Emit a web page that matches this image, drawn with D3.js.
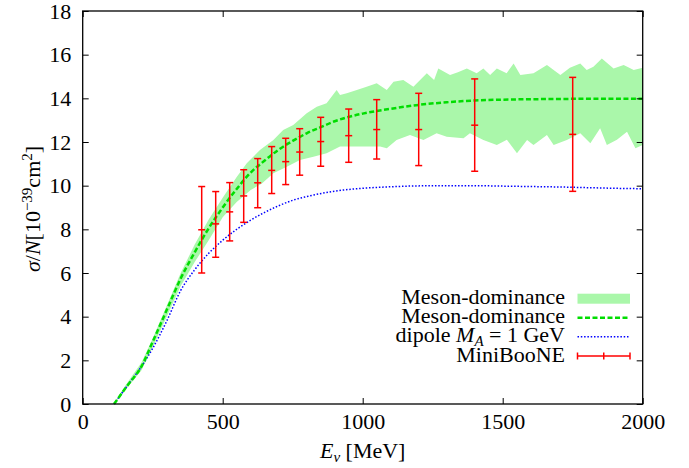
<!DOCTYPE html>
<html>
<head>
<meta charset="utf-8">
<script src="https://cdn.jsdelivr.net/npm/d3@7"></script>
<style>
  body { margin: 0; background: #fff; }
  svg text { font-family: 'Liberation Serif', 'Times New Roman', serif; fill: #000; }
</style>
</head>
<body>
<div id="chart"></div>
<script>
// ---- data ----
var xTicks = [0, 500, 1000, 1500, 2000];
var yTicks = [0, 2, 4, 6, 8, 10, 12, 14, 16, 18];

// meson-dominance central curve
var mesonE = [112, 160, 210, 250, 300, 350, 400, 450, 500, 550, 600, 650, 700, 750, 800, 850, 900, 950, 1000, 1100, 1200, 1300, 1400, 1500, 1600, 1700, 1800, 1900, 2000];
var mesonV = [0, 0.85, 1.72, 2.85, 4.3, 5.75, 6.95, 8.05, 9.0, 9.85, 10.6, 11.15, 11.65, 12.05, 12.4, 12.68, 12.95, 13.15, 13.3, 13.52, 13.7, 13.82, 13.9, 13.94, 13.96, 13.97, 13.98, 13.98, 13.98];

// dipole M_A = 1 GeV
var dipoleE = [112, 160, 210, 250, 300, 350, 400, 450, 500, 550, 600, 650, 700, 750, 800, 900, 1000, 1100, 1200, 1300, 1400, 1500, 1600, 1700, 1800, 1900, 2000];
var dipoleV = [0, 0.85, 1.72, 2.55, 3.8, 5.2, 6.15, 6.9, 7.5, 8.0, 8.42, 8.78, 9.08, 9.33, 9.5, 9.75, 9.88, 9.95, 9.99, 10.0, 10.0, 9.98, 9.96, 9.94, 9.91, 9.88, 9.86];

// meson-dominance band edges [E, value]
var bandUpper = [[112, 0.05], [150, 0.8], [210, 1.9], [250, 3.0], [300, 4.5], [350, 6.0], [400, 7.3], [450, 8.45], [500, 9.45], [550, 10.4], [586, 11.03], [633, 11.63], [681, 12.09], [716, 12.55], [752, 12.78], [800, 13.32], [836, 13.62], [871, 13.77], [907, 14.38], [919, 14.15], [943, 14.23], [979, 14.38], [1014, 14.53], [1050, 14.69], [1086, 14.38], [1110, 14.76], [1145, 14.84], [1181, 14.53], [1229, 15.15], [1255, 14.84], [1270, 15.37], [1312, 15.07], [1340, 15.2], [1372, 15.37], [1407, 15.15], [1431, 15.37], [1455, 15.07], [1479, 15.37], [1514, 15.15], [1539, 15.6], [1563, 15.07], [1610, 15.15], [1658, 15.53], [1706, 15.07], [1740, 15.4], [1777, 15.6], [1800, 15.3], [1824, 15.45], [1854, 15.83], [1896, 15.37], [1932, 15.53], [1968, 15.3], [2000, 15.4]];
var bandLower = [[112, 0], [150, 0.6], [210, 1.55], [250, 2.6], [300, 4.0], [350, 5.4], [400, 6.5], [450, 7.5], [500, 8.55], [550, 9.25], [600, 9.8], [640, 10.1], [681, 10.57], [729, 10.87], [776, 11.18], [824, 11.33], [871, 11.48], [919, 11.79], [967, 11.79], [1026, 11.79], [1062, 11.79], [1086, 11.71], [1121, 12.09], [1169, 12.32], [1217, 12.09], [1264, 12.4], [1300, 12.24], [1360, 12.17], [1383, 12.4], [1431, 12.09], [1479, 11.86], [1515, 12.1], [1551, 11.48], [1587, 12.09], [1610, 11.86], [1658, 12.32], [1682, 11.86], [1729, 12.09], [1777, 12.4], [1813, 11.94], [1848, 12.63], [1872, 11.86], [1908, 12.1], [1944, 12.47], [1974, 11.71], [2000, 11.86]];

// MiniBooNE points
var mbE = [425, 475, 525, 575, 625, 675, 725, 775, 850, 950, 1050, 1200, 1400, 1750];
var mbV = [7.98, 8.25, 8.8, 9.53, 10.13, 10.7, 11.1, 11.54, 12.02, 12.29, 12.57, 12.57, 12.77, 12.35];
var mbLo = [6.0, 6.72, 7.47, 8.32, 8.99, 9.64, 10.05, 10.48, 10.89, 11.07, 11.22, 10.92, 10.66, 9.74];
var mbHi = [9.96, 9.73, 10.14, 10.73, 11.24, 11.79, 12.17, 12.61, 13.13, 13.51, 13.94, 14.23, 14.89, 14.96];

// ---- layout ----
var W = 689, H = 468;
var plot = { left: 82.7, right: 642.7, top: 11, bottom: 404 };
var fontSize = 22;
var serif = "'Liberation Serif', 'Times New Roman', serif";
var bandColor = "#aaf7aa";
var mesonColor = "#00dd00";
var dipoleColor = "#0000ff";
var dataColor = "#ff0000";

var xScale = d3.scaleLinear().domain([0, 2000]).range([plot.left, plot.right]);
var yScale = d3.scaleLinear().domain([0, 18]).range([plot.bottom, plot.top]);

var svg = d3.select("#chart").append("svg")
  .attr("width", W)
  .attr("height", H)
  .style("font-family", serif)
  .style("font-size", fontSize + "px");

svg.append("rect").attr("width", W).attr("height", H).attr("fill", "#fff");

// band
var bandPts = bandUpper.concat(bandLower.slice().reverse());
svg.append("path")
  .attr("d", d3.line()
    .x(function (d) { return xScale(d[0]); })
    .y(function (d) { return yScale(d[1]); })(bandPts) + "Z")
  .attr("fill", bandColor)
  .attr("stroke", "none");

// curves
var mesonData = mesonE.map(function (e, i) { return [e, mesonV[i]]; });
var dipoleData = dipoleE.map(function (e, i) { return [e, dipoleV[i]]; });
var curve = d3.line()
  .curve(d3.curveMonotoneX)
  .x(function (d) { return xScale(d[0]); })
  .y(function (d) { return yScale(d[1]); });

svg.append("path")
  .datum(dipoleData)
  .attr("fill", "none")
  .attr("stroke", dipoleColor)
  .attr("stroke-width", 1.5)
  .attr("stroke-dasharray", "1.5,1.8")
  .attr("d", curve);

svg.append("path")
  .datum(mesonData)
  .attr("fill", "none")
  .attr("stroke", mesonColor)
  .attr("stroke-width", 2.5)
  .attr("stroke-dasharray", "5,2.5")
  .attr("d", curve);

// error bars
var cap = 3.5;
var bars = svg.append("g")
  .attr("stroke", dataColor)
  .attr("stroke-width", 1.5)
  .attr("fill", "none");
mbE.forEach(function (e, i) {
  var px = xScale(e);
  bars.append("line").attr("x1", px).attr("x2", px).attr("y1", yScale(mbLo[i])).attr("y2", yScale(mbHi[i]));
  bars.append("line").attr("x1", px - cap).attr("x2", px + cap).attr("y1", yScale(mbLo[i])).attr("y2", yScale(mbLo[i]));
  bars.append("line").attr("x1", px - cap).attr("x2", px + cap).attr("y1", yScale(mbHi[i])).attr("y2", yScale(mbHi[i]));
  bars.append("line").attr("x1", px - cap).attr("x2", px + cap).attr("y1", yScale(mbV[i])).attr("y2", yScale(mbV[i]));
});

// axes, ticks inward on all four sides
var tickLen = 6;
var gx = svg.append("g")
  .attr("transform", "translate(0," + plot.bottom + ")")
  .call(d3.axisBottom(xScale).tickValues(xTicks).tickSize(-tickLen).tickPadding(9).tickFormat(d3.format("d")));
var gy = svg.append("g")
  .attr("transform", "translate(" + plot.left + ",0)")
  .call(d3.axisLeft(yScale).tickValues(yTicks).tickSize(-tickLen).tickPadding(11.5).tickFormat(d3.format("d")));
var gt = svg.append("g")
  .attr("transform", "translate(0," + plot.top + ")")
  .call(d3.axisTop(xScale).tickValues(xTicks).tickSize(-tickLen).tickFormat(""));
var gr = svg.append("g")
  .attr("transform", "translate(" + plot.right + ",0)")
  .call(d3.axisRight(yScale).tickValues(yTicks).tickSize(-tickLen).tickFormat(""));

[gx, gy, gt, gr].forEach(function (g) {
  g.attr("font-family", null).attr("font-size", null);
  g.select(".domain").remove();
  g.selectAll(".tick line").attr("stroke", "#000").attr("stroke-width", 1);
  g.selectAll(".tick text").attr("fill", "#000");
});

// frame
svg.append("rect")
  .attr("x", plot.left)
  .attr("y", plot.top)
  .attr("width", plot.right - plot.left)
  .attr("height", plot.bottom - plot.top)
  .attr("fill", "none")
  .attr("stroke", "#000")
  .attr("stroke-width", 1.3);

// x axis title
var xt = svg.append("text")
  .attr("x", (plot.left + plot.right) / 2)
  .attr("y", 458)
  .attr("text-anchor", "middle");
xt.append("tspan").attr("font-style", "italic").text("E");
xt.append("tspan").attr("font-style", "italic").attr("font-size", 15).attr("dy", 4).text("\u03bd");
xt.append("tspan").attr("dy", -4).text(" [MeV]");

// y axis title
var yt = svg.append("text")
  .attr("transform", "translate(40," + 209 + ") rotate(-90)")
  .attr("text-anchor", "middle");
yt.append("tspan").attr("font-style", "italic").text("\u03c3");
yt.append("tspan").text("/");
yt.append("tspan").attr("font-style", "italic").text("N");
yt.append("tspan").text("[10");
yt.append("tspan").attr("font-size", 15).attr("dy", -8).text("\u221239");
yt.append("tspan").attr("dy", 8).text("cm");
yt.append("tspan").attr("font-size", 15).attr("dy", -8).text("2");
yt.append("tspan").attr("dy", 8).text("]");

// legend
var legX = 565, swX0 = 577.5, swX1 = 630;
var legRows = [298.7, 317.7, 336.7, 356];
var leg = svg.append("g");

leg.append("text").attr("x", legX).attr("y", legRows[0] + 5.5).attr("text-anchor", "end").text("Meson-dominance");
leg.append("rect").attr("x", swX0).attr("y", legRows[0] - 5).attr("width", swX1 - swX0).attr("height", 10).attr("fill", bandColor);

leg.append("text").attr("x", legX).attr("y", legRows[1] + 5.5).attr("text-anchor", "end").text("Meson-dominance");
leg.append("line").attr("x1", swX0).attr("x2", swX1).attr("y1", legRows[1]).attr("y2", legRows[1])
  .attr("stroke", mesonColor).attr("stroke-width", 2.5).attr("stroke-dasharray", "5,2.5");

var l3 = leg.append("text").attr("x", legX).attr("y", legRows[2] + 5.5).attr("text-anchor", "end");
l3.append("tspan").text("dipole ");
l3.append("tspan").attr("font-style", "italic").text("M");
l3.append("tspan").attr("font-style", "italic").attr("font-size", 15).attr("dy", 4).text("A");
l3.append("tspan").attr("dy", -4).text(" = 1 GeV");
leg.append("line").attr("x1", swX0).attr("x2", swX1).attr("y1", legRows[2]).attr("y2", legRows[2])
  .attr("stroke", dipoleColor).attr("stroke-width", 1.5).attr("stroke-dasharray", "1.5,1.8");

leg.append("text").attr("x", legX).attr("y", legRows[3] + 5.5).attr("text-anchor", "end").text("MiniBooNE");
var lg4 = leg.append("g").attr("stroke", dataColor).attr("stroke-width", 1.5);
lg4.append("line").attr("x1", swX0).attr("x2", swX1).attr("y1", legRows[3]).attr("y2", legRows[3]);
lg4.append("line").attr("x1", swX0).attr("x2", swX0).attr("y1", legRows[3] - cap).attr("y2", legRows[3] + cap);
lg4.append("line").attr("x1", swX1).attr("x2", swX1).attr("y1", legRows[3] - cap).attr("y2", legRows[3] + cap);
lg4.append("line").attr("x1", (swX0 + swX1) / 2).attr("x2", (swX0 + swX1) / 2).attr("y1", legRows[3] - cap).attr("y2", legRows[3] + cap);
</script>
</body>
</html>
